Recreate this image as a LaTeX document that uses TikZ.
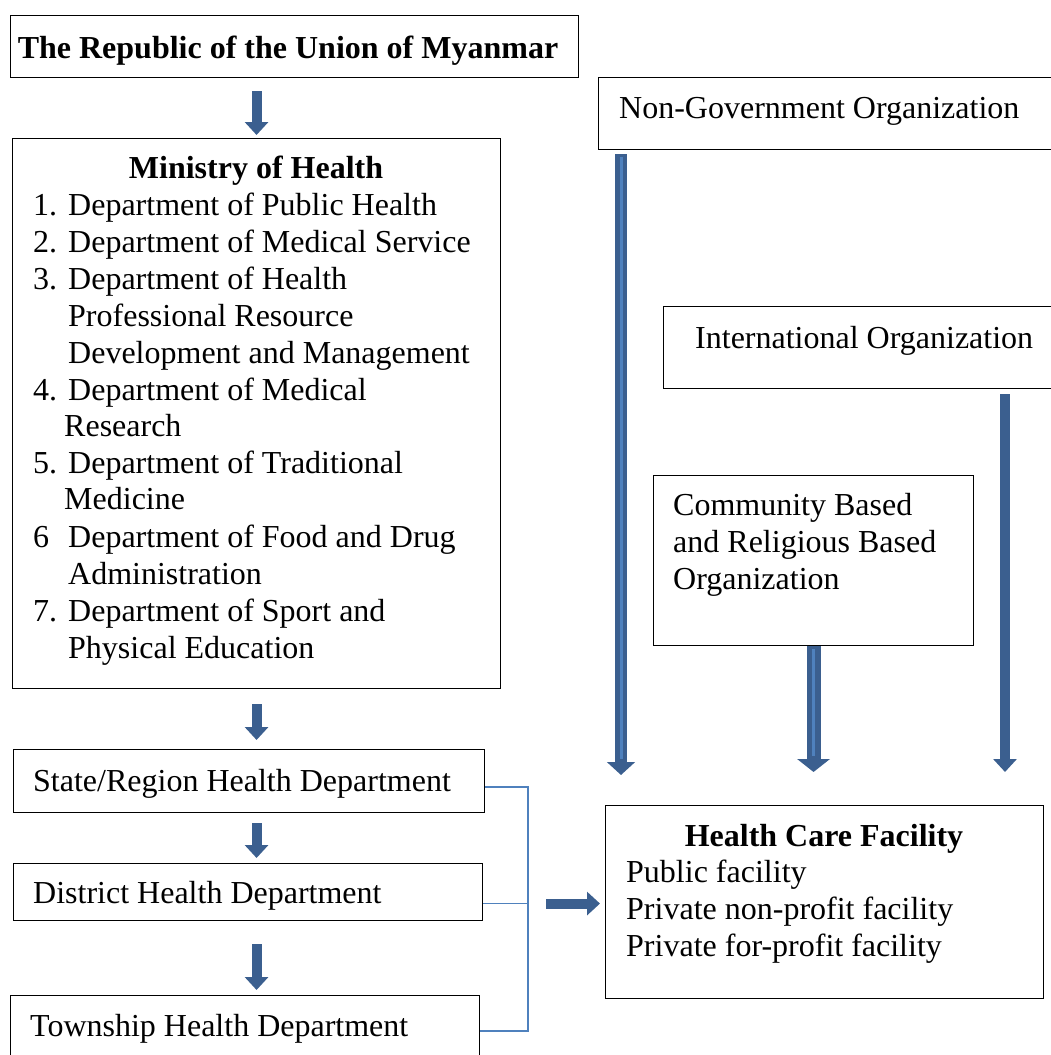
\documentclass[tikz,border=0pt]{standalone}
\usepackage{fontspec}
\setmainfont{Liberation Serif}
\usetikzlibrary{arrows.meta,calc}
\definecolor{arrowblue}{RGB}{59,95,143}
\definecolor{stripeblue}{RGB}{79,129,189}
\begin{document}
\begin{tikzpicture}[x=1pt,y=-1pt,
  box/.style={draw=black,line width=1.1pt,inner sep=0pt,anchor=north west},
  txt/.style={inner sep=0pt,anchor=base west,font=\fontsize{32}{37}\selectfont},
  ttl/.style={inner sep=0pt,anchor=base,font=\fontsize{32}{37}\selectfont\bfseries},
  blk/.style={draw=arrowblue,line width=#1,-{Triangle[width=2.3*#1,length=13pt]}},
  blk/.default=10pt,
  stripe/.style={draw=stripeblue,line width=3pt,shorten >=16pt,shorten <=3pt},
  brk/.style={draw=stripeblue,line width=1.5pt}]
\useasboundingbox (0,0) rectangle (1051,1055);
\begin{scope}
\clip (0,0) rectangle (1051,1055);

% boxes
\node[box,minimum width=568pt,minimum height=62pt] (title) at (10,15) {};
\node[box,minimum width=488pt,minimum height=550pt] (ministry) at (12,138) {};
\node[box,minimum width=471pt,minimum height=63pt] (state) at (13,749) {};
\node[box,minimum width=469pt,minimum height=57pt] (district) at (13,863) {};
\node[box,minimum width=469pt,minimum height=80pt] (township) at (10,995) {};
\node[box,minimum width=480pt,minimum height=72pt] (ngo) at (598,77) {};
\node[box,minimum width=410pt,minimum height=82pt] (intl) at (663,306) {};
\node[box,minimum width=320pt,minimum height=170pt] (cbo) at (653,475) {};
\node[box,minimum width=438pt,minimum height=193pt] (hcf) at (605,805) {};

% texts
\node[ttl] (titletext) at (288,58) {The Republic of the Union of Myanmar};
\node[ttl] (mhead) at (256,178) {Ministry of Health};
\foreach \n/\yy in {1./215,2./252,3./289,4./400,5./473,6/547,7./621}
  \node[txt] (num\yy) at (33,\yy) {\n};
\node[txt] (m1) at (68,215) {Department of Public Health};
\node[txt] (m2) at (68,252) {Department of Medical Service};
\node[txt] (m3a) at (68,289) {Department of Health};
\node[txt] (m3b) at (68,326) {Professional Resource};
\node[txt] (m3c) at (68,363) {Development and Management};
\node[txt] (m4a) at (68,400) {Department of Medical};
\node[txt] (m4b) at (64,436) {Research};
\node[txt] (m5a) at (68,473) {Department of Traditional};
\node[txt] (m5b) at (64,509) {Medicine};
\node[txt] (m6a) at (68,547) {Department of Food and Drug};
\node[txt] (m6b) at (68,584) {Administration};
\node[txt] (m7a) at (68,621) {Department of Sport and};
\node[txt] (m7b) at (68,658) {Physical Education};

\node[txt] (statetext) at (33,791) {State/Region Health Department};
\node[txt] (districttext) at (33,903) {District Health Department};
\node[txt] (townshiptext) at (30,1036) {Township Health Department};

\node[txt] (ngotext) at (619,118) {Non-Government Organization};
\node[txt] (intltext) at (695,348) {International Organization};
\node[txt] (cbo1) at (673,515) {Community Based};
\node[txt] (cbo2) at (673,552) {and Religious Based};
\node[txt] (cbo3) at (673,589) {Organization};

\node[ttl] (hcfhead) at (824,846) {Health Care Facility};
\node[txt] (hcf1) at (626,882) {Public facility};
\node[txt] (hcf2) at (626,919) {Private non-profit facility};
\node[txt] (hcf3) at (626,956) {Private for-profit facility};

% government chain arrows
\draw[blk] ([yshift=-13pt]title.south -| ministry.north) -- ([yshift=3pt]ministry.north);
\draw[blk] ([yshift=-15pt]ministry.south) -- ([yshift=9pt]state.north -| ministry.south);
\draw[blk] ([yshift=-10pt]state.south -| ministry.south) -- ([yshift=5pt]district.north -| ministry.south);
\draw[blk] ([yshift=-23pt]district.south -| ministry.south) -- ([yshift=5pt]township.north -| ministry.south);

% non-government arrows
\coordinate (ngoend) at ([xshift=16pt,yshift=30pt]hcf.north west);
\draw[blk=12pt] (ngoend |- ngo.south) ++(0,4) coordinate (ngostart) -- (ngoend);
\draw[stripe] (ngostart) -- (ngoend);
\draw[blk=14pt] (cbo.south) -- ([yshift=33pt]hcf.north -| cbo.south);
\draw[stripe] (cbo.south) -- ([yshift=33pt]hcf.north -| cbo.south);
\coordinate (intlstart) at ([xshift=342pt,yshift=-5pt]intl.south west);
\draw[blk] (intlstart) -- ([yshift=33pt]hcf.north -| intlstart);

% bracket joining the local departments
\coordinate (bb) at (528,1031);
\coordinate (dmid) at ([yshift=-11.5pt]district.east);
\draw[brk] ([yshift=-6pt]state.east) -| (bb) -- (township.east |- bb);
\draw[brk] (dmid) -- (bb |- dmid);
\draw[blk] ([xshift=-59pt,yshift=-1.5pt]hcf.west) -- ([xshift=-5pt,yshift=-1.5pt]hcf.west);
\end{scope}
\end{tikzpicture}
\end{document}
